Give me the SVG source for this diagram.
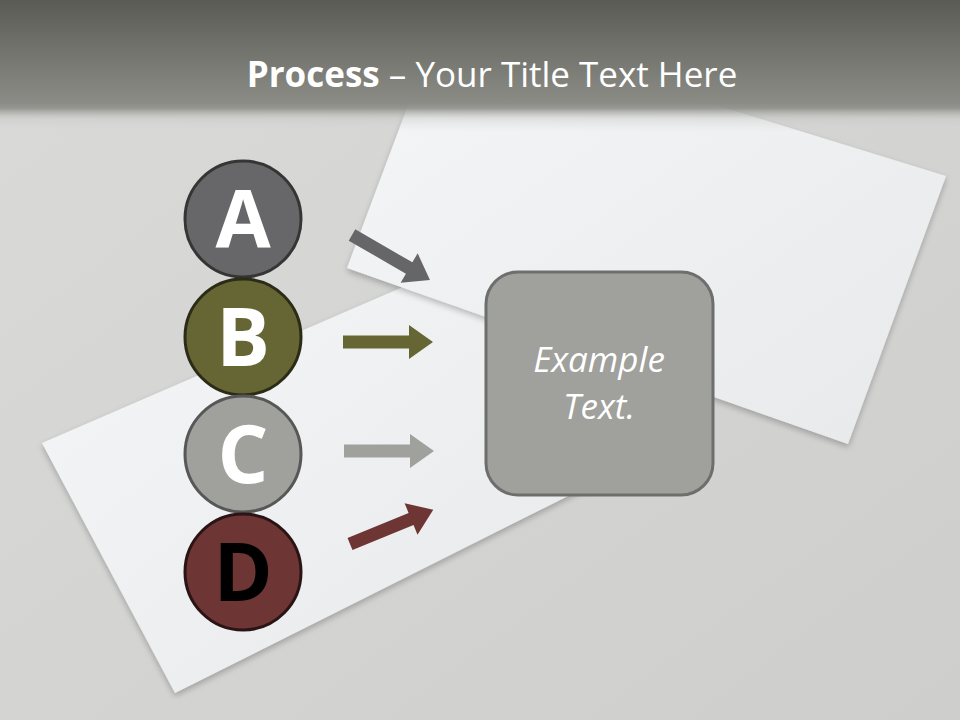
<svg xmlns="http://www.w3.org/2000/svg" width="960" height="720" viewBox="0 0 960 720">
  <defs>
    <linearGradient id="bg" x1="0" y1="0" x2="1" y2="1">
      <stop offset="0" stop-color="#dadad8"/>
      <stop offset="1" stop-color="#cececc"/>
    </linearGradient>
    <linearGradient id="banner" x1="0" y1="0" x2="0" y2="1">
      <stop offset="0" stop-color="#5a5b55"/>
      <stop offset="0.78" stop-color="#8b8c86"/>
      <stop offset="0.82" stop-color="#8e8f89" stop-opacity="0.9"/>
      <stop offset="0.9" stop-color="#c4c4c1" stop-opacity="0.4"/>
      <stop offset="1" stop-color="#d8d8d6" stop-opacity="0"/>
    </linearGradient>
    <linearGradient id="paper" x1="0" y1="0" x2="1" y2="1">
      <stop offset="0" stop-color="#f5f6f8"/>
      <stop offset="1" stop-color="#e8e9eb"/>
    </linearGradient>
    <filter id="shadow" x="-10%" y="-10%" width="120%" height="120%">
      <feGaussianBlur in="SourceAlpha" stdDeviation="3"/>
      <feOffset dx="0" dy="3" result="b"/>
      <feComponentTransfer><feFuncA type="linear" slope="0.25"/></feComponentTransfer>
      <feMerge><feMergeNode/><feMergeNode in="SourceGraphic"/></feMerge>
    </filter>
    <path id="arrow" d="M0,-6.5 L66,-6.5 L66,-17 L90,0 L66,17 L66,6.5 L0,6.5 Z"/>
    <style>
      .letter { font-family: "Open Sans", "DejaVu Sans", sans-serif; font-weight: bold; font-size: 80px; text-anchor: middle; }
      .circ { stroke-width: 3; }
      .ex { font-family: "Open Sans", "DejaVu Sans", sans-serif; font-style: italic; font-size: 35px; fill: #ffffff; text-anchor: middle; }
    </style>
  </defs>

  <rect width="960" height="720" fill="url(#bg)"/>

  <g id="papers">
    <polygon points="42,443 175,693 600,480 470,258" fill="url(#paper)" filter="url(#shadow)"/>
    <polygon points="440,20 946,176 848,444 347,268" fill="url(#paper)" filter="url(#shadow)"/>
  </g>

  <g id="banner">
    <rect x="0" y="0" width="960" height="132" fill="url(#banner)"/>
    <text x="492" y="87" text-anchor="middle" font-family="'Open Sans', 'DejaVu Sans', sans-serif" font-size="35" fill="#ffffff"><tspan font-weight="bold">Process</tspan> – Your Title Text Here</text>
  </g>

  <g id="connectors">
    <use href="#arrow" fill="#666668" transform="translate(352,235) rotate(30)"/>
    <use href="#arrow" fill="#666634" transform="translate(343,342)"/>
    <use href="#arrow" fill="#a0a09c" transform="translate(344,451)"/>
    <use href="#arrow" fill="#6d3533" transform="translate(350,544) rotate(-22.3)"/>
  </g>

  <g id="node-A">
    <circle class="circ" cx="243" cy="219" r="58" fill="#676769" stroke="#353535"/>
    <text class="letter" x="243" y="248" fill="#ffffff">A</text>
  </g>
  <g id="node-B">
    <circle class="circ" cx="243" cy="337" r="58" fill="#666634" stroke="#2b2b18"/>
    <text class="letter" x="243" y="366" fill="#ffffff">B</text>
  </g>
  <g id="node-C">
    <circle class="circ" cx="243" cy="454" r="58" fill="#a0a09c" stroke="#575757"/>
    <text class="letter" x="243" y="483" fill="#ffffff">C</text>
  </g>
  <g id="node-D">
    <circle class="circ" cx="243" cy="572" r="58" fill="#6d3533" stroke="#2a1414"/>
    <text class="letter" x="243" y="601" fill="#000000">D</text>
  </g>

  <g id="node-box">
    <rect x="486" y="272" width="227" height="223" rx="32" fill="#a0a09c" stroke="#6e6e6c" stroke-width="3"/>
    <text class="ex" x="599" y="372">Example</text>
    <text class="ex" x="599" y="419">Text.</text>
  </g>
</svg>
